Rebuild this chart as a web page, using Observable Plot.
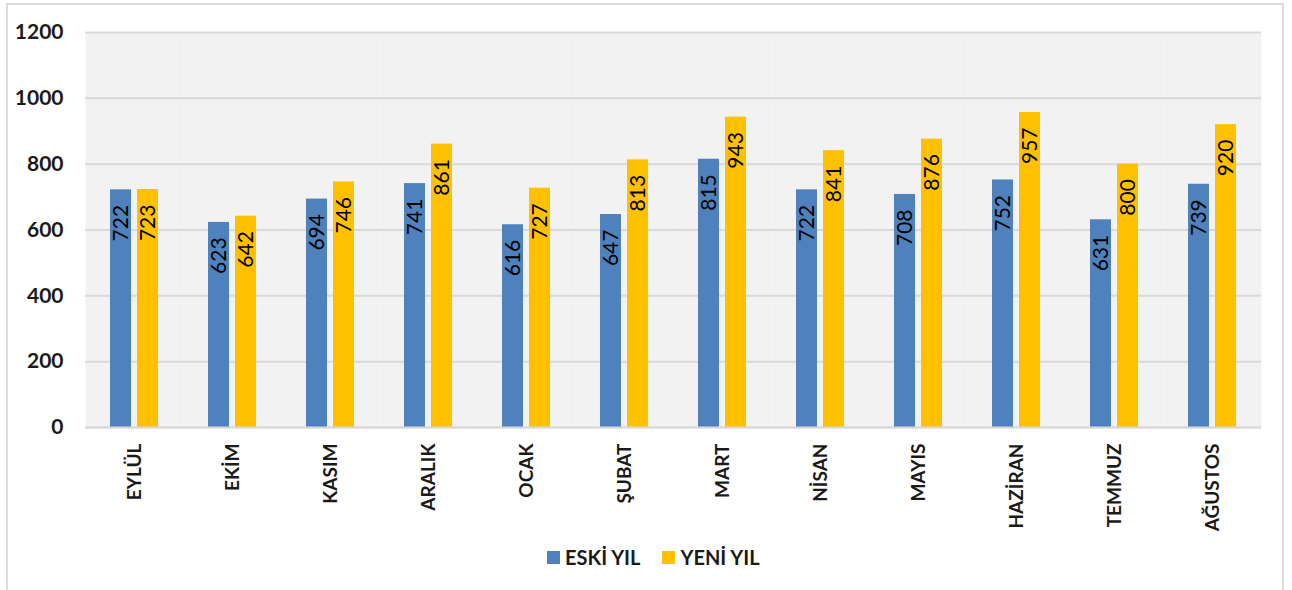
<!DOCTYPE html>
<html>
<head>
<meta charset="utf-8">
<script src="https://cdn.jsdelivr.net/npm/d3@7"></script>
<script src="https://cdn.jsdelivr.net/npm/@observablehq/plot@0.6"></script>
<style>
  html, body { margin: 0; padding: 0; background: #fff; }
  body { width: 1292px; height: 590px; position: relative; overflow: hidden; font-family: Lato, "Open Sans", sans-serif; }
  #frame { position: absolute; left: 6px; top: 3px; width: 1278px; height: 620px; border: 2px solid #dcdcdc; box-sizing: border-box; }
  #chart { position: absolute; left: 0; top: 0; }
  #legend { position: absolute; left: 547px; top: 545px; display: flex; align-items: center; font-weight: bold; font-size: 20px; color: #1a1a1a; }
  .sw { width: 13px; height: 13px; display: inline-block; margin-right: 5px; }
  .item { display: flex; align-items: center; margin-right: 22px; }
</style>
</head>
<body>
<div id="frame"></div>
<div id="chart"></div>
<div id="legend"></div>
<script>
const months = ["EYLÜL", "EKİM", "KASIM", "ARALIK", "OCAK", "ŞUBAT", "MART", "NİSAN", "MAYIS", "HAZİRAN", "TEMMUZ", "AĞUSTOS"];
const seriesNames = ["ESKİ YIL", "YENİ YIL"];
const eskiYil = [722, 623, 694, 741, 616, 647, 815, 722, 708, 752, 631, 739];
const yeniYil = [723, 642, 746, 861, 727, 813, 943, 841, 876, 957, 800, 920];
const yTicks = [0, 200, 400, 600, 800, 1000, 1200];
const colors = ["#4f81bd", "#ffc000"];

const data = [];
months.forEach((m, i) => {
  data.push({month: m, series: seriesNames[0], value: eskiYil[i]});
  data.push({month: m, series: seriesNames[1], value: yeniYil[i]});
});

const chart = Plot.plot({
  width: 1292,
  height: 545,
  marginLeft: 83,
  marginRight: 30,
  marginTop: 32,
  marginBottom: 118,
  style: {fontFamily: "Lato, 'Open Sans', sans-serif", color: "#1a1a1a", background: "transparent"},
  fx: {domain: months, padding: 0},
  x: {domain: seriesNames, paddingInner: 0.214, paddingOuter: 0.86, axis: null},
  y: {domain: [0, 1200]},
  color: {domain: seriesNames, range: colors},
  marks: [
    Plot.frame({fill: "#f2f2f2", stroke: null}),
    Plot.gridY({ticks: yTicks, stroke: "#d9d9d9", strokeOpacity: 1, strokeWidth: 2}),
    Plot.barY(data, {fx: "month", x: "series", y: "value", fill: "series"}),
    Plot.text(data, {fx: "month", x: "series", y: "value", text: d => String(d.value), rotate: -90, textAnchor: "end", dy: 15, fontSize: 21, fill: "#000"}),
    Plot.axisY({ticks: yTicks, tickFormat: d => String(d), tickSize: 0, tickPadding: 22, fontSize: 21, fontWeight: "bold", label: null}),
    Plot.axisFx({anchor: "bottom", tickRotate: -90, tickSize: 0, tickPadding: 16, fontSize: 19, fontWeight: "bold", label: null}),
    Plot.ruleY([0], {stroke: "#d9d9d9", strokeWidth: 2})
  ]
});
document.getElementById("chart").appendChild(chart);

const legend = document.getElementById("legend");
seriesNames.forEach((s, i) => {
  const item = document.createElement("span");
  item.className = "item";
  const sw = document.createElement("span");
  sw.className = "sw";
  sw.style.background = colors[i];
  item.appendChild(sw);
  item.appendChild(document.createTextNode(s));
  legend.appendChild(item);
});
</script>
</body>
</html>
